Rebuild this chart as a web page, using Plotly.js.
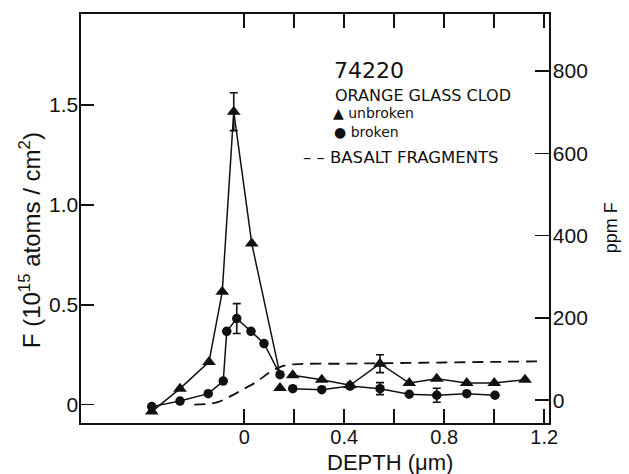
<!DOCTYPE html>
<html>
<head>
<meta charset="utf-8">
<script src="https://cdn.plot.ly/plotly-3.0.1.min.js"></script>
<style>html,body{margin:0;padding:0;background:#fff;}#chart{width:629px;height:474px;}</style>
</head>
<body>
<div id="chart"></div>
<script>
// Unbroken orange glass clod (triangles)
const depthUnbroken = [-0.37, -0.257, -0.141, -0.088, -0.042, 0.03, 0.143, 0.194, 0.31, 0.423, 0.543, 0.66, 0.77, 0.89, 1.0, 1.123];
const fUnbroken     = [-0.035, 0.08, 0.214, 0.565, 1.467, 0.807, 0.083, 0.147, 0.125, 0.097, 0.205, 0.108, 0.13, 0.108, 0.108, 0.125];
const errUnbroken   = [0, 0, 0, 0, 0.095, 0, 0, 0, 0, 0, 0.045, 0, 0, 0, 0, 0];

// Broken orange glass clod (circles)
const depthBroken = [-0.37, -0.257, -0.144, -0.084, -0.07, -0.03, 0.027, 0.079, 0.143, 0.194, 0.31, 0.423, 0.543, 0.66, 0.77, 0.89, 1.003];
const fBroken     = [-0.01, 0.018, 0.055, 0.118, 0.367, 0.431, 0.367, 0.306, 0.15, 0.08, 0.075, 0.093, 0.08, 0.052, 0.047, 0.055, 0.047];
const errBroken   = [0, 0, 0, 0, 0, 0.075, 0, 0, 0, 0, 0, 0, 0.03, 0, 0.035, 0, 0];

// Basalt fragments (dashed curve)
const depthBasalt = [-0.2, -0.15, -0.1, -0.05, 0, 0.05, 0.1, 0.15, 0.2, 0.4, 0.6, 0.8, 1.0, 1.2];
const fBasalt     = [0.0, 0.003, 0.015, 0.045, 0.08, 0.115, 0.16, 0.192, 0.202, 0.205, 0.208, 0.211, 0.214, 0.217];

// Axis ticks
const xTickVals = [0, 0.4, 0.8, 1.2];
const xTickText = ['0', '0.4', '0.8', '1.2'];
const xMinorTickVals = [0.2, 0.6, 1.0];
const yTickVals = [0, 0.5, 1.0, 1.5];
const yTickText = ['0', '0.5', '1.0', '1.5'];
const y2TickVals = [0, 200, 400, 600, 800];

// Line segments built from the series (surface part / interior part)
const segX = [], segY = [];
function addSeg(xs, ys) { xs.forEach((v, i) => { segX.push(v); segY.push(ys[i]); }); segX.push(null); segY.push(null); }
// unbroken surface profile ends at the merged point at 0.143
addSeg(depthUnbroken.slice(0, 6).concat([depthBroken[8]]), fUnbroken.slice(0, 6).concat([fBroken[8]]));
addSeg(depthBroken.slice(0, 9), fBroken.slice(0, 9));
addSeg(depthUnbroken.slice(7), fUnbroken.slice(7));
addSeg(depthBroken.slice(9), fBroken.slice(9));

const black = '#111';
const FONT = 'Liberation Sans, Arial, sans-serif';
const LEG = 'DejaVu Sans, sans-serif';

const traces = [
  { x: depthBasalt, y: fBasalt, mode: 'lines', line: { color: black, width: 1.8, dash: '11px,7px', shape: 'spline' }, hoverinfo: 'skip' },
  { x: segX, y: segY, mode: 'lines', line: { color: black, width: 1.5 }, connectgaps: false, hoverinfo: 'skip' },
  { x: depthUnbroken, y: fUnbroken, mode: 'markers', marker: { symbol: 'triangle-up', size: 12, color: black },
    error_y: { type: 'data', array: errUnbroken, visible: true, color: black, thickness: 1.6, width: 4 } },
  { x: depthBroken, y: fBroken, mode: 'markers', marker: { symbol: 'circle', size: 9.5, color: black },
    error_y: { type: 'data', array: errBroken, visible: true, color: black, thickness: 1.6, width: 4 } },
  { x: [0], y: [0], yaxis: 'y2', mode: 'markers', marker: { opacity: 0 }, hoverinfo: 'skip' }
];

function px2x(px) { return (px - 81) / 468; }
function py2y(py) { return (422.7 - py) / 408.7; }

const layout = {
  width: 629, height: 474,
  margin: { l: 81, r: 80, t: 14, b: 51 },
  paper_bgcolor: '#fff', plot_bgcolor: '#fff',
  showlegend: false,
  font: { family: FONT, color: black, size: 20 },
  xaxis: {
    range: [-0.653, 1.219], tickvals: xTickVals, ticktext: xTickText,
    ticks: 'inside', ticklen: 14, tickwidth: 1.6, tickcolor: black,
    minor: { tickvals: xMinorTickVals, ticks: 'inside', ticklen: 14, tickwidth: 1.6, tickcolor: black, showgrid: false },
    showline: true, linecolor: black, linewidth: 1.6, mirror: 'ticks',
    showgrid: false, zeroline: false, tickfont: { size: 20 }, ticklabelstandoff: -5
  },
  yaxis: {
    range: [-0.092, 1.956], tickvals: yTickVals, ticktext: yTickText,
    ticks: 'inside', ticklen: 13, tickwidth: 1.6, tickcolor: black,
    showline: true, linecolor: black, linewidth: 1.6,
    showgrid: false, zeroline: false, tickfont: { size: 21 }, ticklabelstandoff: -3
  },
  yaxis2: {
    overlaying: 'y', side: 'right', range: [-55.2, 938.6], tickvals: y2TickVals,
    ticks: 'inside', ticklen: 14, tickwidth: 1.6, tickcolor: black,
    showline: true, linecolor: black, linewidth: 1.6,
    showgrid: false, zeroline: false, tickfont: { size: 21 }, ticklabelstandoff: -2
  },
  annotations: [
    { xref: 'paper', yref: 'paper', x: px2x(390), y: py2y(462), text: 'DEPTH (μm)', showarrow: false, font: { size: 22 }, xanchor: 'center', yanchor: 'middle' },
    { xref: 'paper', yref: 'paper', x: px2x(30), y: py2y(240), text: 'F (10<sup>15</sup> atoms / cm<sup>2</sup>)', textangle: -90, showarrow: false, font: { size: 24 }, xanchor: 'center', yanchor: 'middle' },
    { xref: 'paper', yref: 'paper', x: px2x(611), y: py2y(228), text: 'ppm F', textangle: -90, showarrow: false, font: { size: 18 }, xanchor: 'center', yanchor: 'middle' },
    { xref: 'paper', yref: 'paper', x: px2x(332), y: py2y(70), text: '74220', showarrow: false, font: { size: 22, family: LEG }, xanchor: 'left', yanchor: 'middle' },
    { xref: 'paper', yref: 'paper', x: px2x(333), y: py2y(95), text: 'ORANGE GLASS CLOD', showarrow: false, font: { size: 16, family: LEG }, xanchor: 'left', yanchor: 'middle' },
    { xref: 'paper', yref: 'paper', x: px2x(331), y: py2y(113), text: '▲ unbroken', showarrow: false, font: { size: 14, family: LEG }, xanchor: 'left', yanchor: 'middle' },
    { xref: 'paper', yref: 'paper', x: px2x(332), y: py2y(132), text: '● broken', showarrow: false, font: { size: 14, family: LEG }, xanchor: 'left', yanchor: 'middle' },
    { xref: 'paper', yref: 'paper', x: px2x(301), y: py2y(157), text: '– – BASALT FRAGMENTS', showarrow: false, font: { size: 16.5, family: LEG }, xanchor: 'left', yanchor: 'middle' }
  ]
};

Plotly.newPlot('chart', traces, layout, { staticPlot: true, displayModeBar: false });
</script>
</body>
</html>
